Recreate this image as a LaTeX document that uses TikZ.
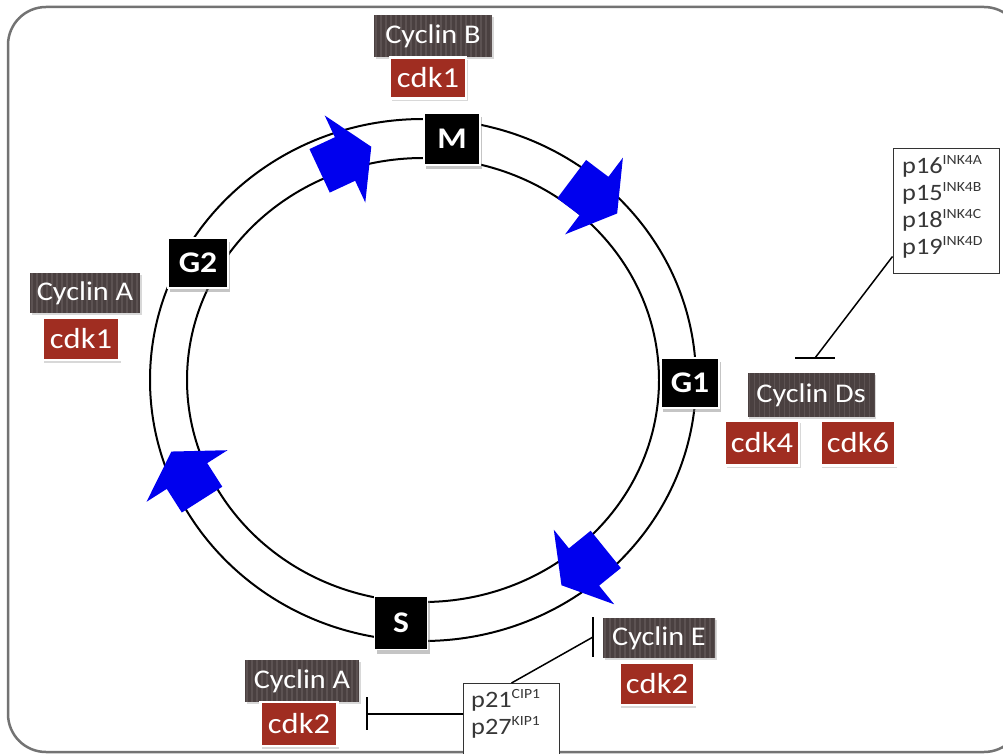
\documentclass[tikz,border=0pt]{standalone}
\usepackage{fontspec}
\setmainfont{Carlito}[FakeStretch=1.12]
\usetikzlibrary{shadows}
\definecolor{cyc}{RGB}{74,64,64}
\definecolor{stripe}{RGB}{92,82,82}
\definecolor{cdkred}{RGB}{160,45,33}
\definecolor{framegray}{RGB}{115,115,115}
\definecolor{arrowblue}{RGB}{0,0,238}
\definecolor{inhtext}{RGB}{55,55,55}
\newcommand\sups[1]{\textsuperscript{\fontsize{14}{14}\selectfont #1}}
\newcommand\blockarrow[3]{%
  \fill[arrowblue, shift={(#1,#2)}, rotate=#3]
    (-28,-24) -- (0,-24) -- (0,-48) -- (29,0) -- (0,48) -- (0,24) -- (-28,24) -- cycle;}
\begin{document}
\begin{tikzpicture}[x=1pt,y=-1pt,
  cyclin/.style={fill=cyc, text=white, inner sep=0pt,
    font=\fontsize{27}{27}\selectfont,
    drop shadow={opacity=0.3,shadow xshift=1.5pt,shadow yshift=-2pt},
    path picture={\foreach \i in {0,...,30}
      \draw[stripe, line width=1.2pt] ([xshift=\i*5pt+2pt]path picture bounding box.north west) -- ([xshift=\i*5pt+2pt]path picture bounding box.south west);}},
  cdk/.style={fill=cdkred, draw=white, line width=2.5pt, text=white, inner sep=0pt,
    font=\fontsize{29}{29}\selectfont,
    drop shadow={opacity=0.3,shadow xshift=1.5pt,shadow yshift=-2.5pt}},
  phase/.style={fill=black, draw=white, line width=1.5pt, text=white, inner sep=0pt,
    font=\fontsize{30}{30}\selectfont\bfseries,
    drop shadow={opacity=0.45,shadow xshift=2pt,shadow yshift=-4pt}},
  inhbox/.style={draw=black!80, line width=1pt, fill=white, inner sep=0pt},
  inhlabel/.style={text=inhtext, inner sep=0pt, align=left,
    font=\fontsize{23.5}{27}\selectfont},
  inhib/.style={black, line width=1.5pt},
  ring/.style={black, line width=2pt}
]
\clip (0,0) rectangle (1003,754);
\fill[white] (0,0) rectangle (1003,754);
\draw[framegray, line width=2.5pt, rounded corners=38pt] (8,7) rectangle (1022,752);

% cell cycle ring
\draw[ring] (423,380) ellipse [x radius=273, y radius=261];
\draw[ring] (423,380) ellipse [x radius=236, y radius=222];

% blue arrows
\blockarrow{345}{159}{25}
\blockarrow{594}{196}{-37}
\blockarrow{584}{567}{219}
\blockarrow{187}{476}{122.5}

% phases
\node[phase, minimum width=56, minimum height=52] (M) at (452,139) {M};
\node[phase, minimum width=60, minimum height=50] (G2) at (198,263) {G2};
\node[phase, minimum width=58, minimum height=50] (G1) at (690,383) {G1};
\node[phase, minimum width=53, minimum height=53] (S) at (401,623) {S};

% cyclins and cdks
\node[cyclin, minimum width=118, minimum height=42] (cycB) at (433,36) {Cyclin B};
\node[cdk, minimum width=76, minimum height=41] (cdk1a) at (428,78) {cdk1};

\node[cyclin, minimum width=110, minimum height=40] (cycA1) at (85,293) {Cyclin A};
\node[cdk, minimum width=77, minimum height=42] (cdk1b) at (81,339) {cdk1};

\node[cyclin, minimum width=127, minimum height=44] (cycD) at (811,395) {Cyclin Ds};
\node[cdk, minimum width=74, minimum height=45] (cdk4) at (762,443) {cdk4};
\node[cdk, minimum width=75, minimum height=45] (cdk6) at (858,443) {cdk6};

\node[cyclin, minimum width=112, minimum height=40] (cycE) at (659,638) {Cyclin E};
\node[cdk, minimum width=75, minimum height=42] (cdk2a) at (657,684) {cdk2};

\node[cyclin, minimum width=114, minimum height=42] (cycA2) at (302,681) {Cyclin A};
\node[cdk, minimum width=77, minimum height=44] (cdk2b) at (299,724) {cdk2};

% inhibitors
\node[inhbox, minimum width=106, minimum height=124] (p16) at (946,211) {};
\node[inhlabel, anchor=north west] (p16t) at (902,155)
  {p16\sups{INK4A}\\p15\sups{INK4B}\\p18\sups{INK4C}\\p19\sups{INK4D}};

\node[inhbox, minimum width=96, minimum height=100, anchor=north west] (p21) at (463,683) {};
\node[inhlabel, anchor=north west] (p21t) at (471,689)
  {p21\sups{CIP1}\\p27\sups{KIP1}};

% inhibition connectors
\coordinate (tD) at (815,358);
\draw[inhib] ([yshift=17pt]p16.south west) -- (tD);
\draw[inhib] ([xshift=-20pt]tD) -- ([xshift=20pt]tD);

\coordinate (tE) at (593,637);
\draw[inhib] (p21.north) -- (tE);
\draw[inhib] ([yshift=20pt]tE) -- ([yshift=-20pt]tE);

\coordinate (tA) at (367,714);
\draw[inhib] (p21.west |- tA) -- (tA);
\draw[inhib] ([yshift=17pt]tA) -- ([yshift=-16pt]tA);
\end{tikzpicture}
\end{document}
